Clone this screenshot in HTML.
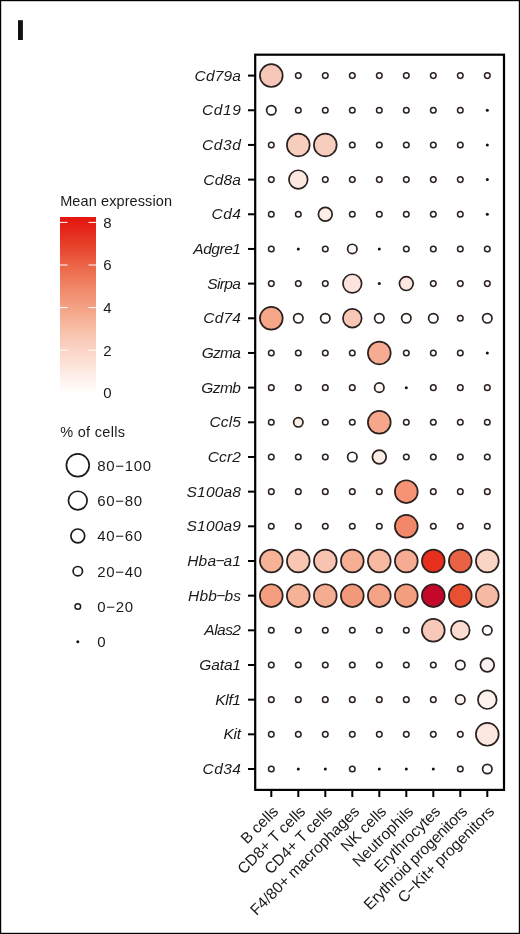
<!DOCTYPE html><html><head><meta charset="utf-8"><style>html,body{margin:0;padding:0;background:#fff}svg{display:block;will-change:transform}text{font-family:"Liberation Sans",sans-serif;fill:#1a1a1a}</style></head><body>
<svg width="520" height="934" viewBox="0 0 520 934">
<defs><linearGradient id="g" x1="0" y1="0" x2="0" y2="1"><stop offset="0" stop-color="#e4160e"/><stop offset="0.031" stop-color="#e41c12"/><stop offset="0.152" stop-color="#e73e28"/><stop offset="0.273" stop-color="#eb6446"/><stop offset="0.394" stop-color="#f08566"/><stop offset="0.515" stop-color="#f4a285"/><stop offset="0.636" stop-color="#f8bea7"/><stop offset="0.758" stop-color="#fbd5c7"/><stop offset="0.879" stop-color="#fdeae3"/><stop offset="1.0" stop-color="#fffefd"/></linearGradient></defs>
<rect x="0" y="0" width="520" height="934" fill="#fff"/>
<rect x="0.6" y="0.6" width="518.8" height="932.8" fill="none" stroke="#000" stroke-width="1.2"/>
<rect x="18" y="20.2" width="4.9" height="19.8" fill="#111"/>
<rect x="255.2" y="54.7" width="248.8" height="735.2" fill="none" stroke="#000" stroke-width="2.2"/>
<line x1="248" y1="75.60" x2="255" y2="75.60" stroke="#000" stroke-width="2"/>
<text x="241.2" y="80.50" font-size="15.5" font-style="italic" text-anchor="end" letter-spacing="0.2">Cd79a</text>
<line x1="248" y1="110.27" x2="255" y2="110.27" stroke="#000" stroke-width="2"/>
<text x="241.2" y="115.17" font-size="15.5" font-style="italic" text-anchor="end" letter-spacing="0.2" textLength="39.26" lengthAdjust="spacing">Cd19</text>
<line x1="248" y1="144.94" x2="255" y2="144.94" stroke="#000" stroke-width="2"/>
<text x="241.2" y="149.84" font-size="15.5" font-style="italic" text-anchor="end" letter-spacing="0.2" textLength="39.26" lengthAdjust="spacing">Cd3d</text>
<line x1="248" y1="179.61" x2="255" y2="179.61" stroke="#000" stroke-width="2"/>
<text x="241.2" y="184.51" font-size="15.5" font-style="italic" text-anchor="end" letter-spacing="0.2">Cd8a</text>
<line x1="248" y1="214.28" x2="255" y2="214.28" stroke="#000" stroke-width="2"/>
<text x="241.2" y="219.18" font-size="15.5" font-style="italic" text-anchor="end" letter-spacing="0.2" textLength="29.75" lengthAdjust="spacing">Cd4</text>
<line x1="248" y1="248.95" x2="255" y2="248.95" stroke="#000" stroke-width="2"/>
<text x="241.2" y="253.85" font-size="15.5" font-style="italic" text-anchor="end" letter-spacing="0.2" textLength="47.89" lengthAdjust="spacing">Adgre1</text>
<line x1="248" y1="283.62" x2="255" y2="283.62" stroke="#000" stroke-width="2"/>
<text x="241.2" y="288.52" font-size="15.5" font-style="italic" text-anchor="end" letter-spacing="0.2" textLength="33.99" lengthAdjust="spacing">Sirpa</text>
<line x1="248" y1="318.29" x2="255" y2="318.29" stroke="#000" stroke-width="2"/>
<text x="241.2" y="323.19" font-size="15.5" font-style="italic" text-anchor="end" letter-spacing="0.2">Cd74</text>
<line x1="248" y1="352.96" x2="255" y2="352.96" stroke="#000" stroke-width="2"/>
<text x="241.2" y="357.86" font-size="15.5" font-style="italic" text-anchor="end" letter-spacing="0.2" textLength="39.54" lengthAdjust="spacing">Gzma</text>
<line x1="248" y1="387.63" x2="255" y2="387.63" stroke="#000" stroke-width="2"/>
<text x="241.2" y="392.53" font-size="15.5" font-style="italic" text-anchor="end" letter-spacing="0.2" textLength="39.84" lengthAdjust="spacing">Gzmb</text>
<line x1="248" y1="422.30" x2="255" y2="422.30" stroke="#000" stroke-width="2"/>
<text x="241.2" y="427.20" font-size="15.5" font-style="italic" text-anchor="end" letter-spacing="0.2">Ccl5</text>
<line x1="248" y1="456.97" x2="255" y2="456.97" stroke="#000" stroke-width="2"/>
<text x="241.2" y="461.87" font-size="15.5" font-style="italic" text-anchor="end" letter-spacing="0.2">Ccr2</text>
<line x1="248" y1="491.64" x2="255" y2="491.64" stroke="#000" stroke-width="2"/>
<text x="241.2" y="496.54" font-size="15.5" font-style="italic" text-anchor="end" letter-spacing="0.2">S100a8</text>
<line x1="248" y1="526.31" x2="255" y2="526.31" stroke="#000" stroke-width="2"/>
<text x="241.2" y="531.21" font-size="15.5" font-style="italic" text-anchor="end" letter-spacing="0.2">S100a9</text>
<line x1="248" y1="560.98" x2="255" y2="560.98" stroke="#000" stroke-width="2"/>
<text x="241.2" y="565.88" font-size="15.5" font-style="italic" text-anchor="end" letter-spacing="0.2">Hba<tspan dx="-0.8">−</tspan><tspan dx="-1.2">a1</tspan></text>
<line x1="248" y1="595.65" x2="255" y2="595.65" stroke="#000" stroke-width="2"/>
<text x="241.2" y="600.55" font-size="15.5" font-style="italic" text-anchor="end" letter-spacing="0.2">Hbb<tspan dx="-0.8">−</tspan><tspan dx="-1.2">bs</tspan></text>
<line x1="248" y1="630.32" x2="255" y2="630.32" stroke="#000" stroke-width="2"/>
<text x="241.2" y="635.22" font-size="15.5" font-style="italic" text-anchor="end" letter-spacing="0.2" textLength="36.88" lengthAdjust="spacing">Alas2</text>
<line x1="248" y1="664.99" x2="255" y2="664.99" stroke="#000" stroke-width="2"/>
<text x="241.2" y="669.89" font-size="15.5" font-style="italic" text-anchor="end" letter-spacing="0.2" textLength="41.83" lengthAdjust="spacing">Gata1</text>
<line x1="248" y1="699.66" x2="255" y2="699.66" stroke="#000" stroke-width="2"/>
<text x="241.2" y="704.56" font-size="15.5" font-style="italic" text-anchor="end" letter-spacing="0.2" textLength="25.92" lengthAdjust="spacing">Klf1</text>
<line x1="248" y1="734.33" x2="255" y2="734.33" stroke="#000" stroke-width="2"/>
<text x="241.2" y="739.23" font-size="15.5" font-style="italic" text-anchor="end" letter-spacing="0.2" textLength="17.70" lengthAdjust="spacing">Kit</text>
<line x1="248" y1="769.00" x2="255" y2="769.00" stroke="#000" stroke-width="2"/>
<text x="241.2" y="773.90" font-size="15.5" font-style="italic" text-anchor="end" letter-spacing="0.2" textLength="38.66" lengthAdjust="spacing">Cd34</text>
<line x1="271.30" y1="790" x2="271.30" y2="797" stroke="#000" stroke-width="2"/>
<text transform="translate(279.30,812.4) rotate(-45)" font-size="15.5" text-anchor="end" letter-spacing="0">B cells</text>
<line x1="298.30" y1="790" x2="298.30" y2="797" stroke="#000" stroke-width="2"/>
<text transform="translate(306.30,812.4) rotate(-45)" font-size="15.5" text-anchor="end" letter-spacing="0">CD8+ T cells</text>
<line x1="325.30" y1="790" x2="325.30" y2="797" stroke="#000" stroke-width="2"/>
<text transform="translate(333.30,812.4) rotate(-45)" font-size="15.5" text-anchor="end" letter-spacing="0">CD4+ T cells</text>
<line x1="352.30" y1="790" x2="352.30" y2="797" stroke="#000" stroke-width="2"/>
<text transform="translate(360.30,812.4) rotate(-45)" font-size="15.5" text-anchor="end" letter-spacing="0">F4/80+ macrophages</text>
<line x1="379.30" y1="790" x2="379.30" y2="797" stroke="#000" stroke-width="2"/>
<text transform="translate(387.30,812.4) rotate(-45)" font-size="15.5" text-anchor="end" letter-spacing="0">NK cells</text>
<line x1="406.30" y1="790" x2="406.30" y2="797" stroke="#000" stroke-width="2"/>
<text transform="translate(414.30,812.4) rotate(-45)" font-size="15.5" text-anchor="end" letter-spacing="0">Neutrophils</text>
<line x1="433.30" y1="790" x2="433.30" y2="797" stroke="#000" stroke-width="2"/>
<text transform="translate(441.30,812.4) rotate(-45)" font-size="15.5" text-anchor="end" letter-spacing="0">Erythrocytes</text>
<line x1="460.30" y1="790" x2="460.30" y2="797" stroke="#000" stroke-width="2"/>
<text transform="translate(468.30,812.4) rotate(-45)" font-size="15.5" text-anchor="end" letter-spacing="0" textLength="139" lengthAdjust="spacing">Erythroid progenitors</text>
<line x1="487.30" y1="790" x2="487.30" y2="797" stroke="#000" stroke-width="2"/>
<text transform="translate(495.30,812.4) rotate(-45)" font-size="15.5" text-anchor="end" letter-spacing="0">C−Kit+ progenitors</text>
<circle cx="271.30" cy="75.60" r="11.4" fill="#f7c8b9" stroke="#2b211f" stroke-width="1.7"/>
<circle cx="298.30" cy="75.60" r="2.8" fill="#ffffff" stroke="#2b211f" stroke-width="1.5"/>
<circle cx="325.30" cy="75.60" r="2.8" fill="#ffffff" stroke="#2b211f" stroke-width="1.5"/>
<circle cx="352.30" cy="75.60" r="2.8" fill="#ffffff" stroke="#2b211f" stroke-width="1.5"/>
<circle cx="379.30" cy="75.60" r="2.8" fill="#ffffff" stroke="#2b211f" stroke-width="1.5"/>
<circle cx="406.30" cy="75.60" r="2.8" fill="#ffffff" stroke="#2b211f" stroke-width="1.5"/>
<circle cx="433.30" cy="75.60" r="2.8" fill="#ffffff" stroke="#2b211f" stroke-width="1.5"/>
<circle cx="460.30" cy="75.60" r="2.8" fill="#ffffff" stroke="#2b211f" stroke-width="1.5"/>
<circle cx="487.30" cy="75.60" r="2.8" fill="#ffffff" stroke="#2b211f" stroke-width="1.5"/>
<circle cx="271.30" cy="110.27" r="4.7" fill="#ffffff" stroke="#2b211f" stroke-width="1.7"/>
<circle cx="298.30" cy="110.27" r="2.8" fill="#ffffff" stroke="#2b211f" stroke-width="1.5"/>
<circle cx="325.30" cy="110.27" r="2.8" fill="#ffffff" stroke="#2b211f" stroke-width="1.5"/>
<circle cx="352.30" cy="110.27" r="2.8" fill="#ffffff" stroke="#2b211f" stroke-width="1.5"/>
<circle cx="379.30" cy="110.27" r="2.8" fill="#ffffff" stroke="#2b211f" stroke-width="1.5"/>
<circle cx="406.30" cy="110.27" r="2.8" fill="#ffffff" stroke="#2b211f" stroke-width="1.5"/>
<circle cx="433.30" cy="110.27" r="2.8" fill="#ffffff" stroke="#2b211f" stroke-width="1.5"/>
<circle cx="460.30" cy="110.27" r="2.8" fill="#ffffff" stroke="#2b211f" stroke-width="1.5"/>
<circle cx="487.30" cy="110.27" r="1.5" fill="#111"/>
<circle cx="271.30" cy="144.94" r="2.8" fill="#ffffff" stroke="#2b211f" stroke-width="1.5"/>
<circle cx="298.30" cy="144.94" r="11.4" fill="#f7cdbe" stroke="#2b211f" stroke-width="1.7"/>
<circle cx="325.30" cy="144.94" r="11.4" fill="#f7cdbe" stroke="#2b211f" stroke-width="1.7"/>
<circle cx="352.30" cy="144.94" r="2.8" fill="#ffffff" stroke="#2b211f" stroke-width="1.5"/>
<circle cx="379.30" cy="144.94" r="2.8" fill="#ffffff" stroke="#2b211f" stroke-width="1.5"/>
<circle cx="406.30" cy="144.94" r="2.8" fill="#ffffff" stroke="#2b211f" stroke-width="1.5"/>
<circle cx="433.30" cy="144.94" r="2.8" fill="#ffffff" stroke="#2b211f" stroke-width="1.5"/>
<circle cx="460.30" cy="144.94" r="2.8" fill="#ffffff" stroke="#2b211f" stroke-width="1.5"/>
<circle cx="487.30" cy="144.94" r="1.5" fill="#111"/>
<circle cx="271.30" cy="179.61" r="2.8" fill="#ffffff" stroke="#2b211f" stroke-width="1.5"/>
<circle cx="298.30" cy="179.61" r="9.35" fill="#fce8e1" stroke="#2b211f" stroke-width="1.7"/>
<circle cx="325.30" cy="179.61" r="2.8" fill="#ffffff" stroke="#2b211f" stroke-width="1.5"/>
<circle cx="352.30" cy="179.61" r="2.8" fill="#ffffff" stroke="#2b211f" stroke-width="1.5"/>
<circle cx="379.30" cy="179.61" r="2.8" fill="#ffffff" stroke="#2b211f" stroke-width="1.5"/>
<circle cx="406.30" cy="179.61" r="2.8" fill="#ffffff" stroke="#2b211f" stroke-width="1.5"/>
<circle cx="433.30" cy="179.61" r="2.8" fill="#ffffff" stroke="#2b211f" stroke-width="1.5"/>
<circle cx="460.30" cy="179.61" r="2.8" fill="#ffffff" stroke="#2b211f" stroke-width="1.5"/>
<circle cx="487.30" cy="179.61" r="1.5" fill="#111"/>
<circle cx="271.30" cy="214.28" r="2.8" fill="#ffffff" stroke="#2b211f" stroke-width="1.5"/>
<circle cx="298.30" cy="214.28" r="2.8" fill="#ffffff" stroke="#2b211f" stroke-width="1.5"/>
<circle cx="325.30" cy="214.28" r="6.9" fill="#fdeee8" stroke="#2b211f" stroke-width="1.7"/>
<circle cx="352.30" cy="214.28" r="2.8" fill="#ffffff" stroke="#2b211f" stroke-width="1.5"/>
<circle cx="379.30" cy="214.28" r="2.8" fill="#ffffff" stroke="#2b211f" stroke-width="1.5"/>
<circle cx="406.30" cy="214.28" r="2.8" fill="#ffffff" stroke="#2b211f" stroke-width="1.5"/>
<circle cx="433.30" cy="214.28" r="2.8" fill="#ffffff" stroke="#2b211f" stroke-width="1.5"/>
<circle cx="460.30" cy="214.28" r="2.8" fill="#ffffff" stroke="#2b211f" stroke-width="1.5"/>
<circle cx="487.30" cy="214.28" r="1.5" fill="#111"/>
<circle cx="271.30" cy="248.95" r="2.8" fill="#ffffff" stroke="#2b211f" stroke-width="1.5"/>
<circle cx="298.30" cy="248.95" r="1.5" fill="#111"/>
<circle cx="325.30" cy="248.95" r="2.8" fill="#ffffff" stroke="#2b211f" stroke-width="1.5"/>
<circle cx="352.30" cy="248.95" r="4.7" fill="#fbf5f3" stroke="#2b211f" stroke-width="1.7"/>
<circle cx="379.30" cy="248.95" r="1.5" fill="#111"/>
<circle cx="406.30" cy="248.95" r="2.8" fill="#ffffff" stroke="#2b211f" stroke-width="1.5"/>
<circle cx="433.30" cy="248.95" r="2.8" fill="#ffffff" stroke="#2b211f" stroke-width="1.5"/>
<circle cx="460.30" cy="248.95" r="2.8" fill="#ffffff" stroke="#2b211f" stroke-width="1.5"/>
<circle cx="487.30" cy="248.95" r="2.8" fill="#ffffff" stroke="#2b211f" stroke-width="1.5"/>
<circle cx="271.30" cy="283.62" r="2.8" fill="#ffffff" stroke="#2b211f" stroke-width="1.5"/>
<circle cx="298.30" cy="283.62" r="2.8" fill="#ffffff" stroke="#2b211f" stroke-width="1.5"/>
<circle cx="325.30" cy="283.62" r="2.8" fill="#ffffff" stroke="#2b211f" stroke-width="1.5"/>
<circle cx="352.30" cy="283.62" r="9.35" fill="#fce4dc" stroke="#2b211f" stroke-width="1.7"/>
<circle cx="379.30" cy="283.62" r="1.5" fill="#111"/>
<circle cx="406.30" cy="283.62" r="6.9" fill="#fae8e1" stroke="#2b211f" stroke-width="1.7"/>
<circle cx="433.30" cy="283.62" r="2.8" fill="#ffffff" stroke="#2b211f" stroke-width="1.5"/>
<circle cx="460.30" cy="283.62" r="2.8" fill="#ffffff" stroke="#2b211f" stroke-width="1.5"/>
<circle cx="487.30" cy="283.62" r="2.8" fill="#ffffff" stroke="#2b211f" stroke-width="1.5"/>
<circle cx="271.30" cy="318.29" r="11.4" fill="#f7a789" stroke="#2b211f" stroke-width="1.7"/>
<circle cx="298.30" cy="318.29" r="4.7" fill="#ffffff" stroke="#2b211f" stroke-width="1.7"/>
<circle cx="325.30" cy="318.29" r="4.7" fill="#ffffff" stroke="#2b211f" stroke-width="1.7"/>
<circle cx="352.30" cy="318.29" r="9.35" fill="#f7c8b6" stroke="#2b211f" stroke-width="1.7"/>
<circle cx="379.30" cy="318.29" r="4.7" fill="#ffffff" stroke="#2b211f" stroke-width="1.7"/>
<circle cx="406.30" cy="318.29" r="4.7" fill="#ffffff" stroke="#2b211f" stroke-width="1.7"/>
<circle cx="433.30" cy="318.29" r="4.7" fill="#ffffff" stroke="#2b211f" stroke-width="1.7"/>
<circle cx="460.30" cy="318.29" r="2.8" fill="#ffffff" stroke="#2b211f" stroke-width="1.5"/>
<circle cx="487.30" cy="318.29" r="4.7" fill="#ffffff" stroke="#2b211f" stroke-width="1.7"/>
<circle cx="271.30" cy="352.96" r="2.8" fill="#ffffff" stroke="#2b211f" stroke-width="1.5"/>
<circle cx="298.30" cy="352.96" r="2.8" fill="#ffffff" stroke="#2b211f" stroke-width="1.5"/>
<circle cx="325.30" cy="352.96" r="2.8" fill="#ffffff" stroke="#2b211f" stroke-width="1.5"/>
<circle cx="352.30" cy="352.96" r="2.8" fill="#ffffff" stroke="#2b211f" stroke-width="1.5"/>
<circle cx="379.30" cy="352.96" r="11.4" fill="#f7ab92" stroke="#2b211f" stroke-width="1.7"/>
<circle cx="406.30" cy="352.96" r="2.8" fill="#ffffff" stroke="#2b211f" stroke-width="1.5"/>
<circle cx="433.30" cy="352.96" r="2.8" fill="#ffffff" stroke="#2b211f" stroke-width="1.5"/>
<circle cx="460.30" cy="352.96" r="2.8" fill="#ffffff" stroke="#2b211f" stroke-width="1.5"/>
<circle cx="487.30" cy="352.96" r="1.5" fill="#111"/>
<circle cx="271.30" cy="387.63" r="2.8" fill="#ffffff" stroke="#2b211f" stroke-width="1.5"/>
<circle cx="298.30" cy="387.63" r="2.8" fill="#ffffff" stroke="#2b211f" stroke-width="1.5"/>
<circle cx="325.30" cy="387.63" r="2.8" fill="#ffffff" stroke="#2b211f" stroke-width="1.5"/>
<circle cx="352.30" cy="387.63" r="2.8" fill="#ffffff" stroke="#2b211f" stroke-width="1.5"/>
<circle cx="379.30" cy="387.63" r="4.7" fill="#fdf8f6" stroke="#2b211f" stroke-width="1.7"/>
<circle cx="406.30" cy="387.63" r="1.5" fill="#111"/>
<circle cx="433.30" cy="387.63" r="2.8" fill="#ffffff" stroke="#2b211f" stroke-width="1.5"/>
<circle cx="460.30" cy="387.63" r="2.8" fill="#ffffff" stroke="#2b211f" stroke-width="1.5"/>
<circle cx="487.30" cy="387.63" r="2.8" fill="#ffffff" stroke="#2b211f" stroke-width="1.5"/>
<circle cx="271.30" cy="422.30" r="2.8" fill="#ffffff" stroke="#2b211f" stroke-width="1.5"/>
<circle cx="298.30" cy="422.30" r="4.7" fill="#faeee8" stroke="#2b211f" stroke-width="1.7"/>
<circle cx="325.30" cy="422.30" r="2.8" fill="#ffffff" stroke="#2b211f" stroke-width="1.5"/>
<circle cx="352.30" cy="422.30" r="2.8" fill="#ffffff" stroke="#2b211f" stroke-width="1.5"/>
<circle cx="379.30" cy="422.30" r="11.4" fill="#f5a68b" stroke="#2b211f" stroke-width="1.7"/>
<circle cx="406.30" cy="422.30" r="2.8" fill="#ffffff" stroke="#2b211f" stroke-width="1.5"/>
<circle cx="433.30" cy="422.30" r="2.8" fill="#ffffff" stroke="#2b211f" stroke-width="1.5"/>
<circle cx="460.30" cy="422.30" r="2.8" fill="#ffffff" stroke="#2b211f" stroke-width="1.5"/>
<circle cx="487.30" cy="422.30" r="2.8" fill="#ffffff" stroke="#2b211f" stroke-width="1.5"/>
<circle cx="271.30" cy="456.97" r="2.8" fill="#ffffff" stroke="#2b211f" stroke-width="1.5"/>
<circle cx="298.30" cy="456.97" r="2.8" fill="#ffffff" stroke="#2b211f" stroke-width="1.5"/>
<circle cx="325.30" cy="456.97" r="2.8" fill="#ffffff" stroke="#2b211f" stroke-width="1.5"/>
<circle cx="352.30" cy="456.97" r="4.7" fill="#ffffff" stroke="#2b211f" stroke-width="1.7"/>
<circle cx="379.30" cy="456.97" r="6.9" fill="#fcece6" stroke="#2b211f" stroke-width="1.7"/>
<circle cx="406.30" cy="456.97" r="2.8" fill="#ffffff" stroke="#2b211f" stroke-width="1.5"/>
<circle cx="433.30" cy="456.97" r="2.8" fill="#ffffff" stroke="#2b211f" stroke-width="1.5"/>
<circle cx="460.30" cy="456.97" r="2.8" fill="#ffffff" stroke="#2b211f" stroke-width="1.5"/>
<circle cx="487.30" cy="456.97" r="2.8" fill="#ffffff" stroke="#2b211f" stroke-width="1.5"/>
<circle cx="271.30" cy="491.64" r="2.8" fill="#ffffff" stroke="#2b211f" stroke-width="1.5"/>
<circle cx="298.30" cy="491.64" r="2.8" fill="#ffffff" stroke="#2b211f" stroke-width="1.5"/>
<circle cx="325.30" cy="491.64" r="2.8" fill="#ffffff" stroke="#2b211f" stroke-width="1.5"/>
<circle cx="352.30" cy="491.64" r="2.8" fill="#ffffff" stroke="#2b211f" stroke-width="1.5"/>
<circle cx="379.30" cy="491.64" r="2.8" fill="#ffffff" stroke="#2b211f" stroke-width="1.5"/>
<circle cx="406.30" cy="491.64" r="11.4" fill="#f69376" stroke="#2b211f" stroke-width="1.7"/>
<circle cx="433.30" cy="491.64" r="2.8" fill="#ffffff" stroke="#2b211f" stroke-width="1.5"/>
<circle cx="460.30" cy="491.64" r="2.8" fill="#ffffff" stroke="#2b211f" stroke-width="1.5"/>
<circle cx="487.30" cy="491.64" r="2.8" fill="#ffffff" stroke="#2b211f" stroke-width="1.5"/>
<circle cx="271.30" cy="526.31" r="2.8" fill="#ffffff" stroke="#2b211f" stroke-width="1.5"/>
<circle cx="298.30" cy="526.31" r="2.8" fill="#ffffff" stroke="#2b211f" stroke-width="1.5"/>
<circle cx="325.30" cy="526.31" r="2.8" fill="#ffffff" stroke="#2b211f" stroke-width="1.5"/>
<circle cx="352.30" cy="526.31" r="2.8" fill="#ffffff" stroke="#2b211f" stroke-width="1.5"/>
<circle cx="379.30" cy="526.31" r="2.8" fill="#ffffff" stroke="#2b211f" stroke-width="1.5"/>
<circle cx="406.30" cy="526.31" r="11.4" fill="#f28769" stroke="#2b211f" stroke-width="1.7"/>
<circle cx="433.30" cy="526.31" r="2.8" fill="#ffffff" stroke="#2b211f" stroke-width="1.5"/>
<circle cx="460.30" cy="526.31" r="2.8" fill="#ffffff" stroke="#2b211f" stroke-width="1.5"/>
<circle cx="487.30" cy="526.31" r="2.8" fill="#ffffff" stroke="#2b211f" stroke-width="1.5"/>
<circle cx="271.30" cy="560.98" r="11.4" fill="#f7b398" stroke="#2b211f" stroke-width="1.7"/>
<circle cx="298.30" cy="560.98" r="11.4" fill="#f8c6b3" stroke="#2b211f" stroke-width="1.7"/>
<circle cx="325.30" cy="560.98" r="11.4" fill="#f8c3b0" stroke="#2b211f" stroke-width="1.7"/>
<circle cx="352.30" cy="560.98" r="11.4" fill="#f6ae95" stroke="#2b211f" stroke-width="1.7"/>
<circle cx="379.30" cy="560.98" r="11.4" fill="#f7b9a2" stroke="#2b211f" stroke-width="1.7"/>
<circle cx="406.30" cy="560.98" r="11.4" fill="#f5ac92" stroke="#2b211f" stroke-width="1.7"/>
<circle cx="433.30" cy="560.98" r="11.4" fill="#e82e1d" stroke="#2b211f" stroke-width="1.7"/>
<circle cx="460.30" cy="560.98" r="11.4" fill="#e96244" stroke="#2b211f" stroke-width="1.7"/>
<circle cx="487.30" cy="560.98" r="11.4" fill="#fad4c4" stroke="#2b211f" stroke-width="1.7"/>
<circle cx="271.30" cy="595.65" r="11.4" fill="#f49e7f" stroke="#2b211f" stroke-width="1.7"/>
<circle cx="298.30" cy="595.65" r="11.4" fill="#f5b297" stroke="#2b211f" stroke-width="1.7"/>
<circle cx="325.30" cy="595.65" r="11.4" fill="#f5ad92" stroke="#2b211f" stroke-width="1.7"/>
<circle cx="352.30" cy="595.65" r="11.4" fill="#f3997b" stroke="#2b211f" stroke-width="1.7"/>
<circle cx="379.30" cy="595.65" r="11.4" fill="#f4a386" stroke="#2b211f" stroke-width="1.7"/>
<circle cx="406.30" cy="595.65" r="11.4" fill="#f49e80" stroke="#2b211f" stroke-width="1.7"/>
<circle cx="433.30" cy="595.65" r="11.4" fill="#c4082b" stroke="#2b211f" stroke-width="1.7"/>
<circle cx="460.30" cy="595.65" r="11.4" fill="#e95032" stroke="#2b211f" stroke-width="1.7"/>
<circle cx="487.30" cy="595.65" r="11.4" fill="#f6baa4" stroke="#2b211f" stroke-width="1.7"/>
<circle cx="271.30" cy="630.32" r="2.8" fill="#ffffff" stroke="#2b211f" stroke-width="1.5"/>
<circle cx="298.30" cy="630.32" r="2.8" fill="#ffffff" stroke="#2b211f" stroke-width="1.5"/>
<circle cx="325.30" cy="630.32" r="2.8" fill="#ffffff" stroke="#2b211f" stroke-width="1.5"/>
<circle cx="352.30" cy="630.32" r="2.8" fill="#ffffff" stroke="#2b211f" stroke-width="1.5"/>
<circle cx="379.30" cy="630.32" r="2.8" fill="#ffffff" stroke="#2b211f" stroke-width="1.5"/>
<circle cx="406.30" cy="630.32" r="2.8" fill="#ffffff" stroke="#2b211f" stroke-width="1.5"/>
<circle cx="433.30" cy="630.32" r="11.4" fill="#f8c8b9" stroke="#2b211f" stroke-width="1.7"/>
<circle cx="460.30" cy="630.32" r="9.35" fill="#fadcd0" stroke="#2b211f" stroke-width="1.7"/>
<circle cx="487.30" cy="630.32" r="4.7" fill="#ffffff" stroke="#2b211f" stroke-width="1.7"/>
<circle cx="271.30" cy="664.99" r="2.8" fill="#ffffff" stroke="#2b211f" stroke-width="1.5"/>
<circle cx="298.30" cy="664.99" r="2.8" fill="#ffffff" stroke="#2b211f" stroke-width="1.5"/>
<circle cx="325.30" cy="664.99" r="2.8" fill="#ffffff" stroke="#2b211f" stroke-width="1.5"/>
<circle cx="352.30" cy="664.99" r="2.8" fill="#ffffff" stroke="#2b211f" stroke-width="1.5"/>
<circle cx="379.30" cy="664.99" r="2.8" fill="#ffffff" stroke="#2b211f" stroke-width="1.5"/>
<circle cx="406.30" cy="664.99" r="2.8" fill="#ffffff" stroke="#2b211f" stroke-width="1.5"/>
<circle cx="433.30" cy="664.99" r="2.8" fill="#ffffff" stroke="#2b211f" stroke-width="1.5"/>
<circle cx="460.30" cy="664.99" r="4.7" fill="#ffffff" stroke="#2b211f" stroke-width="1.7"/>
<circle cx="487.30" cy="664.99" r="6.9" fill="#faf2f0" stroke="#2b211f" stroke-width="1.7"/>
<circle cx="271.30" cy="699.66" r="2.8" fill="#ffffff" stroke="#2b211f" stroke-width="1.5"/>
<circle cx="298.30" cy="699.66" r="2.8" fill="#ffffff" stroke="#2b211f" stroke-width="1.5"/>
<circle cx="325.30" cy="699.66" r="2.8" fill="#ffffff" stroke="#2b211f" stroke-width="1.5"/>
<circle cx="352.30" cy="699.66" r="2.8" fill="#ffffff" stroke="#2b211f" stroke-width="1.5"/>
<circle cx="379.30" cy="699.66" r="2.8" fill="#ffffff" stroke="#2b211f" stroke-width="1.5"/>
<circle cx="406.30" cy="699.66" r="2.8" fill="#ffffff" stroke="#2b211f" stroke-width="1.5"/>
<circle cx="433.30" cy="699.66" r="2.8" fill="#ffffff" stroke="#2b211f" stroke-width="1.5"/>
<circle cx="460.30" cy="699.66" r="4.7" fill="#fcf2ef" stroke="#2b211f" stroke-width="1.7"/>
<circle cx="487.30" cy="699.66" r="9.35" fill="#fcf2ee" stroke="#2b211f" stroke-width="1.7"/>
<circle cx="271.30" cy="734.33" r="2.8" fill="#ffffff" stroke="#2b211f" stroke-width="1.5"/>
<circle cx="298.30" cy="734.33" r="2.8" fill="#ffffff" stroke="#2b211f" stroke-width="1.5"/>
<circle cx="325.30" cy="734.33" r="2.8" fill="#ffffff" stroke="#2b211f" stroke-width="1.5"/>
<circle cx="352.30" cy="734.33" r="2.8" fill="#ffffff" stroke="#2b211f" stroke-width="1.5"/>
<circle cx="379.30" cy="734.33" r="2.8" fill="#ffffff" stroke="#2b211f" stroke-width="1.5"/>
<circle cx="406.30" cy="734.33" r="2.8" fill="#ffffff" stroke="#2b211f" stroke-width="1.5"/>
<circle cx="433.30" cy="734.33" r="2.8" fill="#ffffff" stroke="#2b211f" stroke-width="1.5"/>
<circle cx="460.30" cy="734.33" r="2.8" fill="#ffffff" stroke="#2b211f" stroke-width="1.5"/>
<circle cx="487.30" cy="734.33" r="11.4" fill="#fce8e1" stroke="#2b211f" stroke-width="1.7"/>
<circle cx="271.30" cy="769.00" r="2.8" fill="#ffffff" stroke="#2b211f" stroke-width="1.5"/>
<circle cx="298.30" cy="769.00" r="1.5" fill="#111"/>
<circle cx="325.30" cy="769.00" r="1.5" fill="#111"/>
<circle cx="352.30" cy="769.00" r="2.8" fill="#ffffff" stroke="#2b211f" stroke-width="1.5"/>
<circle cx="379.30" cy="769.00" r="1.5" fill="#111"/>
<circle cx="406.30" cy="769.00" r="1.5" fill="#111"/>
<circle cx="433.30" cy="769.00" r="1.5" fill="#111"/>
<circle cx="460.30" cy="769.00" r="2.8" fill="#ffffff" stroke="#2b211f" stroke-width="1.5"/>
<circle cx="487.30" cy="769.00" r="4.7" fill="#ffffff" stroke="#2b211f" stroke-width="1.7"/>
<text x="60.2" y="206.2" font-size="14.5" letter-spacing="0.1">Mean expression</text>
<rect x="60" y="217" width="36" height="176" fill="url(#g)"/>
<text x="103.2" y="398.10" font-size="15">0</text>
<line x1="60" y1="350.20" x2="67.5" y2="350.20" stroke="#fff" stroke-width="1"/>
<line x1="88.5" y1="350.20" x2="96" y2="350.20" stroke="#fff" stroke-width="1"/>
<text x="103.2" y="355.50" font-size="15">2</text>
<line x1="60" y1="307.60" x2="67.5" y2="307.60" stroke="#fff" stroke-width="1"/>
<line x1="88.5" y1="307.60" x2="96" y2="307.60" stroke="#fff" stroke-width="1"/>
<text x="103.2" y="312.90" font-size="15">4</text>
<line x1="60" y1="265.00" x2="67.5" y2="265.00" stroke="#fff" stroke-width="1"/>
<line x1="88.5" y1="265.00" x2="96" y2="265.00" stroke="#fff" stroke-width="1"/>
<text x="103.2" y="270.30" font-size="15">6</text>
<line x1="60" y1="222.40" x2="67.5" y2="222.40" stroke="#fff" stroke-width="1"/>
<line x1="88.5" y1="222.40" x2="96" y2="222.40" stroke="#fff" stroke-width="1"/>
<text x="103.2" y="227.70" font-size="15">8</text>
<text x="60.2" y="436.5" font-size="14.5" letter-spacing="0.3">% of cells</text>
<circle cx="77.8" cy="465.30" r="11.4" fill="#fff" stroke="#1a1a1a" stroke-width="1.7"/>
<text x="97.3" y="470.70" font-size="15" letter-spacing="0.65">80−100</text>
<circle cx="77.8" cy="500.60" r="9.35" fill="#fff" stroke="#1a1a1a" stroke-width="1.7"/>
<text x="97.3" y="506.00" font-size="15" letter-spacing="0.65">60−80</text>
<circle cx="77.8" cy="535.90" r="6.9" fill="#fff" stroke="#1a1a1a" stroke-width="1.7"/>
<text x="97.3" y="541.30" font-size="15" letter-spacing="0.65">40−60</text>
<circle cx="77.8" cy="571.20" r="4.7" fill="#fff" stroke="#1a1a1a" stroke-width="1.7"/>
<text x="97.3" y="576.60" font-size="15" letter-spacing="0.65">20−40</text>
<circle cx="77.8" cy="606.50" r="2.8" fill="#fff" stroke="#1a1a1a" stroke-width="1.5"/>
<text x="97.3" y="611.90" font-size="15" letter-spacing="0.65">0−20</text>
<circle cx="77.8" cy="641.80" r="1.5" fill="#111"/>
<text x="97.3" y="647.20" font-size="15" letter-spacing="0.65">0</text>
</svg></body></html>
